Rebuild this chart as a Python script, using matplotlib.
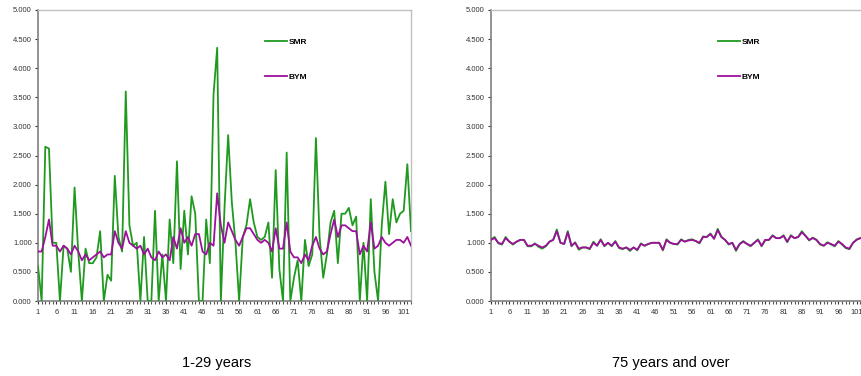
#!/usr/bin/env python3
import numpy as np
import matplotlib
matplotlib.use("Agg")
import matplotlib.pyplot as plt
from matplotlib.ticker import FixedLocator, MultipleLocator, FuncFormatter

plt.rcParams["font.family"] = ["Liberation Sans", "DejaVu Sans"]

# area index 1..103
areas = np.arange(1, 104)

# 1-29 years
smr_young = [
    0.60, 0.00, 2.65, 2.62, 1.00, 1.00, 0.00, 0.95, 0.90, 0.50,
    1.95, 0.85, 0.00, 0.90, 0.65, 0.65, 0.75, 1.20, 0.00, 0.45,
    0.35, 2.15, 1.10, 0.85, 3.60, 1.30, 0.95, 1.00, 0.00, 1.10,
    0.00, 0.00, 1.55, 0.00, 0.80, 0.00, 1.40, 0.65, 2.40, 0.55,
    1.55, 0.80, 1.80, 1.50, 0.00, 0.00, 1.40, 0.65, 3.55, 4.35,
    0.00, 1.60, 2.85, 1.70, 1.00, 0.00, 1.10, 1.30, 1.75, 1.35,
    1.10, 1.05, 1.10, 1.35, 0.40, 2.25, 0.55, 0.00, 2.55, 0.00,
    0.40, 0.70, 0.00, 1.05, 0.60, 0.80, 2.80, 1.10, 0.40, 0.80,
    1.35, 1.55, 0.65, 1.50, 1.50, 1.60, 1.30, 1.45, 0.00, 1.00,
    0.00, 1.75, 0.50, 0.00, 1.30, 2.05, 1.15, 1.75, 1.35, 1.50,
    1.55, 2.35, 1.20,
]
bym_young = [
    0.85, 0.85, 1.10, 1.40, 0.95, 0.95, 0.85, 0.95, 0.90, 0.80,
    0.95, 0.85, 0.70, 0.80, 0.70, 0.75, 0.80, 0.85, 0.75, 0.80,
    0.80, 1.20, 1.00, 0.90, 1.20, 1.00, 0.95, 0.90, 0.95, 0.80,
    0.90, 0.75, 0.70, 0.85, 0.75, 0.80, 0.70, 1.10, 0.90, 1.25,
    1.00, 1.10, 0.95, 1.15, 1.15, 0.85, 0.80, 1.00, 0.95, 1.85,
    1.30, 1.00, 1.35, 1.20, 1.05, 0.95, 1.10, 1.25, 1.25, 1.15,
    1.05, 1.00, 1.05, 1.00, 0.85, 1.25, 0.90, 0.90, 1.35, 0.85,
    0.75, 0.75, 0.65, 0.80, 0.70, 0.95, 1.10, 0.90, 0.80, 0.85,
    1.15, 1.40, 1.10, 1.30, 1.30, 1.25, 1.20, 1.20, 0.80, 0.95,
    0.85, 1.35, 0.90, 0.95, 1.10, 1.00, 0.95, 1.00, 1.05, 1.05,
    1.00, 1.10, 0.95,
]

# 75 years and over
smr_old = [
    1.06, 1.10, 0.99, 0.97, 1.10, 1.02, 0.97, 1.02, 1.05, 1.05,
    0.94, 0.94, 0.99, 0.93, 0.90, 0.94, 1.02, 1.05, 1.23, 1.00,
    0.98, 1.20, 0.94, 1.01, 0.88, 0.92, 0.92, 0.89, 1.02, 0.95,
    1.06, 0.94, 1.00, 0.94, 1.03, 0.91, 0.89, 0.92, 0.86, 0.92,
    0.87, 0.99, 0.95, 0.98, 1.00, 1.00, 1.00, 0.87, 1.06, 1.00,
    0.98, 0.97, 1.06, 1.02, 1.05, 1.06, 1.03, 0.99, 1.11, 1.10,
    1.16, 1.07, 1.24, 1.10, 1.05, 0.97, 1.00, 0.86, 0.98, 1.03,
    0.98, 0.94, 1.00, 1.06, 0.94, 1.05, 1.05, 1.13, 1.08, 1.08,
    1.13, 1.01, 1.13, 1.08, 1.10, 1.20, 1.12, 1.04, 1.09, 1.05,
    0.97, 0.95, 1.01, 0.97, 0.94, 1.03, 0.97, 0.91, 0.89, 1.00,
    1.06, 1.08, 1.11,
]
bym_old = [
    1.05, 1.08, 1.00, 0.98, 1.08, 1.02, 0.98, 1.02, 1.05, 1.05,
    0.95, 0.95, 0.98, 0.95, 0.92, 0.95, 1.02, 1.05, 1.20, 1.00,
    0.98, 1.18, 0.95, 1.00, 0.90, 0.92, 0.92, 0.90, 1.00, 0.95,
    1.05, 0.95, 1.00, 0.95, 1.02, 0.92, 0.90, 0.92, 0.88, 0.92,
    0.88, 0.98, 0.95, 0.98, 1.00, 1.00, 1.00, 0.88, 1.05, 1.00,
    0.98, 0.98, 1.05, 1.02, 1.04, 1.05, 1.03, 1.00, 1.10, 1.10,
    1.15, 1.07, 1.22, 1.10, 1.05, 0.98, 1.00, 0.88, 0.98, 1.02,
    0.98, 0.95, 1.00, 1.05, 0.95, 1.05, 1.05, 1.12, 1.08, 1.08,
    1.12, 1.02, 1.12, 1.08, 1.10, 1.18, 1.12, 1.05, 1.08, 1.05,
    0.98, 0.95, 1.00, 0.98, 0.95, 1.02, 0.98, 0.92, 0.90, 1.00,
    1.05, 1.08, 1.10,
]

panel_titles = ["1-29 years", "75 years and over"]
x_ticks = list(range(1, 102, 5))
y_ticks = np.arange(0, 5.001, 0.5)

SMR_COLOR = "#1f9a1f"
BYM_COLOR = "#9c109c"


def style_axes(ax):
    ax.set_xlim(1, 103)
    ax.set_ylim(0, 5)
    ax.xaxis.set_major_locator(FixedLocator(x_ticks))
    ax.xaxis.set_minor_locator(MultipleLocator(1))
    ax.set_yticks(y_ticks)
    ax.yaxis.set_major_formatter(FuncFormatter(lambda v, p: f"{v:.3f}"))
    ax.tick_params(axis="both", labelsize=5.5, colors="#333333", length=2.5,
                   width=0.8, pad=2)
    ax.tick_params(axis="x", which="minor", length=2, width=0.8,
                   color="#555555")
    ax.tick_params(axis="x", which="major", length=2, pad=4)
    for side in ["top", "right"]:
        ax.spines[side].set_color("#c0c0c0")
        ax.spines[side].set_linewidth(1.0)
    for side in ["left", "bottom"]:
        ax.spines[side].set_color("#808080")
        ax.spines[side].set_linewidth(1.2)


fig = plt.figure(figsize=(8.61, 3.76), dpi=100)
ax1 = fig.add_axes([38 / 861, 75 / 376, 373 / 861, 291 / 376])
ax2 = fig.add_axes([491 / 861, 75 / 376, 373 / 861, 291 / 376])

panels = [(ax1, smr_young, bym_young), (ax2, smr_old, bym_old)]
for ax, smr, bym in panels:
    ax.plot(areas, smr, color=SMR_COLOR, lw=1.3, label="SMR", zorder=3)
    ax.plot(areas, bym, color=BYM_COLOR, lw=1.3, label="BYM", zorder=4)
    style_axes(ax)
    ax.legend(loc="upper left", bbox_to_anchor=(0.6, 0.915), frameon=False,
              prop={"size": 6, "weight": "bold"}, handlelength=2.6,
              handletextpad=0.2, labelspacing=3.3, borderaxespad=0)

fig.text(217 / 861, 1 - 363 / 376, panel_titles[0], ha="center",
         va="center", fontsize=10.5)
fig.text(671 / 861, 1 - 363 / 376, panel_titles[1], ha="center",
         va="center", fontsize=10.5)

plt.savefig("out.png", dpi=100)
plt.close()
